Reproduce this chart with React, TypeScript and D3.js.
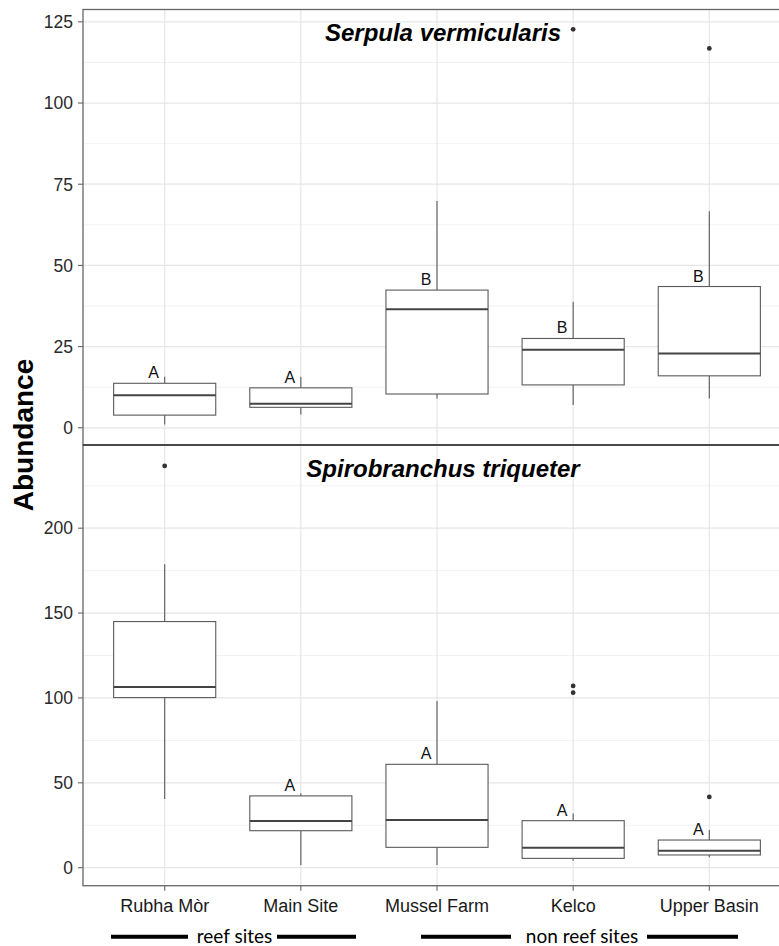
import React from "react";
import * as d3 from "d3";

const sites = ["Rubha Mòr", "Main Site", "Mussel Farm", "Kelco", "Upper Basin"];

// Serpula vermicularis (top panel)
const serpulaLowerWhisker = [1.0, 4.1, 9.0, 7.0, 9.0];
const serpulaQ1 = [3.9, 6.3, 10.4, 13.2, 16.0];
const serpulaMedian = [10.0, 7.4, 36.5, 24.0, 22.9];
const serpulaQ3 = [13.7, 12.3, 42.4, 27.5, 43.5];
const serpulaUpperWhisker = [15.7, 15.7, 69.8, 38.8, 66.7];
const serpulaOutliers = [[], [], [], [122.7], [116.8]];
const serpulaLetters = ["A", "A", "B", "B", "B"];
const serpulaTicks = [0, 25, 50, 75, 100, 125];
const serpulaMinor = [12.5, 37.5, 62.5, 87.5, 112.5];

// Spirobranchus triqueter (bottom panel)
const spiroLowerWhisker = [40.5, 1.6, 1.6, 4.1, 6.1];
const spiroQ1 = [100.2, 21.8, 12.0, 5.5, 7.5];
const spiroMedian = [106.5, 27.5, 28.1, 11.8, 10.0];
const spiroQ3 = [145.0, 42.3, 60.9, 27.7, 16.3];
const spiroUpperWhisker = [178.8, 43.8, 98.2, 32.0, 22.2];
const spiroOutliers = [[236.7], [], [], [107.1, 103.1], [41.7]];
const spiroLetters = ["", "A", "A", "A", "A"];
const spiroTicks = [0, 50, 100, 150, 200];
const spiroMinor = [25, 75, 125, 175, 225];

const groupLabels = ["reef sites", "non reef sites"];

const PANEL_L = 83;
const PANEL_R = 791;

const x = d3.scalePoint<string>().domain(sites).range([PANEL_L, PANEL_R]).padding(0.6);
const step = x.step();
const boxW = step * 0.75;

type PanelProps = {
  title: string;
  top: number;
  bottom: number;
  domain: [number, number];
  lw: number[];
  q1: number[];
  med: number[];
  q3: number[];
  uw: number[];
  outs: number[][];
  letters: string[];
  ticks: number[];
  minor: number[];
};

function Panel(p: PanelProps) {
  const y = d3.scaleLinear().domain(p.domain).range([p.bottom, p.top]);
  const boxStroke = "#5a5a5a";
  return (
    <g>
      {p.minor.map((t) => (
        <line key={"mi" + t} x1={PANEL_L} x2={PANEL_R} y1={y(t)} y2={y(t)} stroke="#f0f0f0" strokeWidth={0.9} />
      ))}
      {p.ticks.map((t) => (
        <line key={"ma" + t} x1={PANEL_L} x2={PANEL_R} y1={y(t)} y2={y(t)} stroke="#e6e6e6" strokeWidth={1.2} />
      ))}
      {sites.map((s) => (
        <line key={"vg" + s} x1={x(s)!} x2={x(s)!} y1={p.top} y2={p.bottom} stroke="#e6e6e6" strokeWidth={1.2} />
      ))}
      {sites.map((s, i) => {
        const cx = x(s)!;
        return (
          <g key={"b" + s}>
            <line x1={cx} x2={cx} y1={y(p.uw[i])} y2={y(p.q3[i])} stroke={boxStroke} strokeWidth={1.1} />
            <line x1={cx} x2={cx} y1={y(p.q1[i])} y2={y(p.lw[i])} stroke={boxStroke} strokeWidth={1.1} />
            <rect
              x={cx - boxW / 2}
              y={y(p.q3[i])}
              width={boxW}
              height={y(p.q1[i]) - y(p.q3[i])}
              fill="white"
              stroke={boxStroke}
              strokeWidth={1.1}
            />
            <line x1={cx - boxW / 2} x2={cx + boxW / 2} y1={y(p.med[i])} y2={y(p.med[i])} stroke="#444" strokeWidth={2} />
            {p.outs[i].map((o, j) => (
              <circle key={j} cx={cx} cy={y(o)} r={2.4} fill="#333" />
            ))}
            {p.letters[i] && (
              <text
                x={cx - 11}
                y={y(p.q3[i]) - 5}
                textAnchor="middle"
                fontFamily="'Liberation Sans', Arial, sans-serif"
                fontSize={16}
                fill="#111"
              >
                {p.letters[i]}
              </text>
            )}
          </g>
        );
      })}
      <rect x={PANEL_L} y={p.top} width={PANEL_R - PANEL_L} height={p.bottom - p.top} fill="none" stroke="#666" strokeWidth={1.3} />
      {p.ticks.map((t) => (
        <g key={"yt" + t}>
          <line x1={PANEL_L - 5} x2={PANEL_L} y1={y(t)} y2={y(t)} stroke="#666" strokeWidth={1.1} />
          <text
            x={PANEL_L - 10}
            y={y(t)}
            dy="0.36em"
            textAnchor="end"
            fontFamily="'Liberation Sans', Arial, sans-serif"
            fontSize={17.5}
            fill="#2a2a2a"
          >
            {t}
          </text>
        </g>
      ))}
      <text
        x={443}
        y={p.top + 31.5}
        textAnchor="middle"
        fontFamily="'Liberation Sans', Arial, sans-serif"
        fontSize={24}
        fontWeight="bold"
        fontStyle="italic"
        fill="#000"
      >
        {p.title}
      </text>
    </g>
  );
}

export default function App() {
  const TOP1 = 9.5;
  const MID = 445;
  const BOT = 885.7;
  // [leftLineStart, leftLineEnd, textCenter, rightLineStart, rightLineEnd]
  const groupLayout: number[][] = [
    [111, 188, 234.5, 277, 356],
    [421, 511, 582, 647, 738],
  ];
  return (
    <svg
      width={779}
      height={946}
      viewBox="0 0 779 946"
      style={{ position: "absolute", left: 0, top: 0, display: "block", background: "white" }}
    >
      <rect x={0} y={0} width={779} height={946} fill="white" />
      <Panel
        title="Serpula vermicularis"
        top={TOP1}
        bottom={MID}
        domain={[-5.3, 128.8]}
        lw={serpulaLowerWhisker}
        q1={serpulaQ1}
        med={serpulaMedian}
        q3={serpulaQ3}
        uw={serpulaUpperWhisker}
        outs={serpulaOutliers}
        letters={serpulaLetters}
        ticks={serpulaTicks}
        minor={serpulaMinor}
      />
      <Panel
        title="Spirobranchus triqueter"
        top={MID}
        bottom={BOT}
        domain={[-10.6, 249]}
        lw={spiroLowerWhisker}
        q1={spiroQ1}
        med={spiroMedian}
        q3={spiroQ3}
        uw={spiroUpperWhisker}
        outs={spiroOutliers}
        letters={spiroLetters}
        ticks={spiroTicks}
        minor={spiroMinor}
      />
      <line x1={PANEL_L} x2={PANEL_R} y1={MID} y2={MID} stroke="#4a4a4a" strokeWidth={2} />
      {sites.map((s) => (
        <g key={"xt" + s}>
          <line x1={x(s)!} x2={x(s)!} y1={BOT} y2={BOT + 5} stroke="#666" strokeWidth={1.1} />
          <text
            x={x(s)!}
            y={912}
            textAnchor="middle"
            fontFamily="'Liberation Sans', Arial, sans-serif"
            fontSize={18}
            fill="#1a1a1a"
          >
            {s}
          </text>
        </g>
      ))}
      <text
        transform="translate(33,435) rotate(-90)"
        textAnchor="middle"
        fontFamily="'Liberation Sans', Arial, sans-serif"
        fontSize={28}
        fontWeight="bold"
        fill="#000"
      >
        Abundance
      </text>
      {groupLabels.map((g, i) => {
        const [a, b, c, d, e] = groupLayout[i];
        return (
          <g key={g}>
            <line x1={a} x2={b} y1={936.7} y2={936.7} stroke="#000" strokeWidth={4} />
            <line x1={d} x2={e} y1={936.7} y2={936.7} stroke="#000" strokeWidth={4} />
            <text
              x={c}
              y={943}
              textAnchor="middle"
              fontFamily="Lato, 'Open Sans', sans-serif"
              fontSize={19}
              fill="#000"
            >
              {g}
            </text>
          </g>
        );
      })}
    </svg>
  );
}
